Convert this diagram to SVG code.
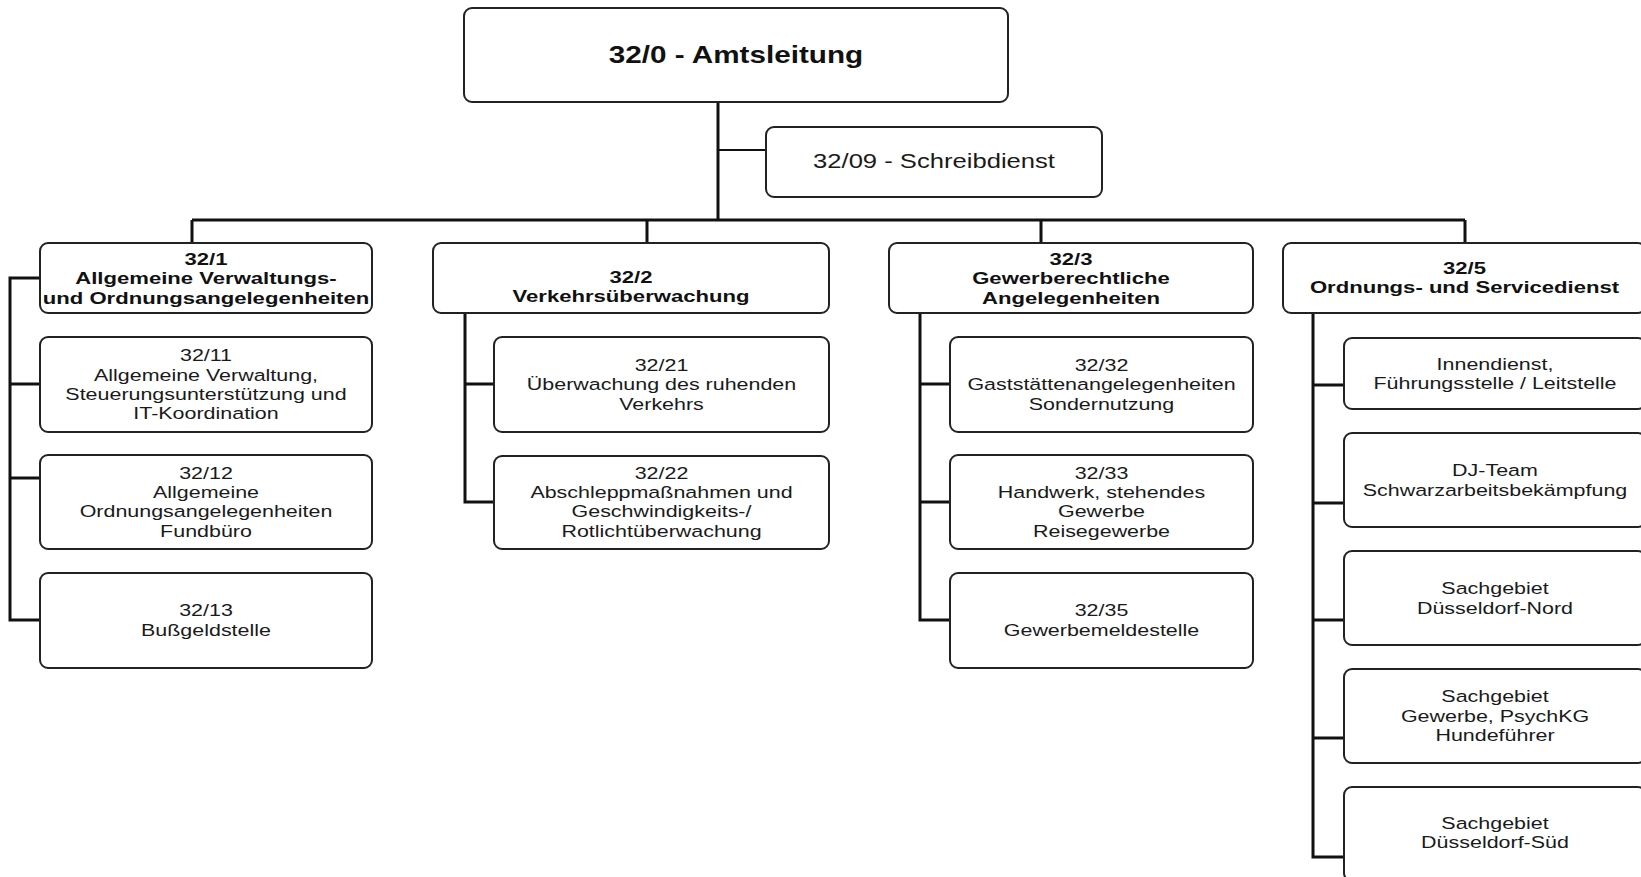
<svg xmlns="http://www.w3.org/2000/svg" width="1641" height="877" viewBox="0 0 1641 877">
<style>
  .box{fill:#fff;stroke:#222;stroke-width:2}
  .t{font-family:"Liberation Sans",Arial,sans-serif;font-size:16.5px;fill:#1a1a1a;text-anchor:middle}
  .b{font-family:"Liberation Sans",Arial,sans-serif;font-size:17px;font-weight:bold;fill:#111;text-anchor:middle}
  .c{fill:none;stroke:#111;stroke-width:3;stroke-linejoin:miter}
  .c2{fill:none;stroke:#111;stroke-width:2}
</style>
<rect x="0" y="0" width="1641" height="877" fill="#fff"/>
<g id="connectors">
  <path class="c" d="M718 102V220"/>
  <path class="c2" d="M718 150H766"/>
  <path class="c" d="M192 220H1465"/>
  <path class="c" d="M192 220V243M647 220V243M1041 220V243M1465 220V243"/>
  <path class="c" d="M40 278H10V620H40M10 384H40M10 478H40"/>
  <path class="c" d="M465 313V502H494M465 384H494"/>
  <path class="c" d="M920 313V620H950M920 384H950M920 502H950"/>
  <path class="c" d="M1313 313V857H1344M1313 385H1344M1313 503H1344M1313 620H1344M1313 738H1344"/>
</g>
<g id="n320">
  <rect class="box" x="464" y="8" width="544" height="94" rx="8"/>
  <g transform="translate(736 0) scale(1.29 1)"><text class="b" style="font-size:23px" x="0" y="63">32/0 - Amtsleitung</text></g>
</g>
<g id="n3209">
  <rect class="box" x="766" y="127" width="336" height="70" rx="8"/>
  <g transform="translate(934 0) scale(1.28 1)"><text class="t" style="font-size:20px" x="0" y="168">32/09 - Schreibdienst</text></g>
</g>
<g id="n321">
  <rect class="box" x="40" y="243" width="332" height="70" rx="8"/>
  <g transform="translate(206 0) scale(1.3 1)">
    <text class="b" x="0" y="265">32/1</text>
    <text class="b" x="0" y="284.5">Allgemeine Verwaltungs-</text>
    <text class="b" x="0" y="304">und Ordnungsangelegenheiten</text>
  </g>
</g>
<g id="n3211">
  <rect class="box" x="40" y="337" width="332" height="95" rx="8"/>
  <g transform="translate(206 0) scale(1.3 1)">
    <text class="t" x="0" y="361.5">32/11</text>
    <text class="t" x="0" y="381">Allgemeine Verwaltung,</text>
    <text class="t" x="0" y="400">Steuerungsunterstützung und</text>
    <text class="t" x="0" y="419.5">IT-Koordination</text>
  </g>
</g>
<g id="n3212">
  <rect class="box" x="40" y="455" width="332" height="94" rx="8"/>
  <g transform="translate(206 0) scale(1.3 1)">
    <text class="t" x="0" y="479">32/12</text>
    <text class="t" x="0" y="498.5">Allgemeine</text>
    <text class="t" x="0" y="517.5">Ordnungsangelegenheiten</text>
    <text class="t" x="0" y="537">Fundbüro</text>
  </g>
</g>
<g id="n3213">
  <rect class="box" x="40" y="573" width="332" height="95" rx="8"/>
  <g transform="translate(206 0) scale(1.3 1)">
    <text class="t" x="0" y="616.5">32/13</text>
    <text class="t" x="0" y="636">Bußgeldstelle</text>
  </g>
</g>
<g id="n322">
  <rect class="box" x="433" y="243" width="396" height="70" rx="8"/>
  <g transform="translate(631 0) scale(1.3 1)">
    <text class="b" x="0" y="283">32/2</text>
    <text class="b" x="0" y="302.5">Verkehrsüberwachung</text>
  </g>
</g>
<g id="n3221">
  <rect class="box" x="494" y="337" width="335" height="95" rx="8"/>
  <g transform="translate(661.5 0) scale(1.3 1)">
    <text class="t" x="0" y="371">32/21</text>
    <text class="t" x="0" y="390.5">Überwachung des ruhenden</text>
    <text class="t" x="0" y="410">Verkehrs</text>
  </g>
</g>
<g id="n3222">
  <rect class="box" x="494" y="456" width="335" height="93" rx="8"/>
  <g transform="translate(661.5 0) scale(1.3 1)">
    <text class="t" x="0" y="479">32/22</text>
    <text class="t" x="0" y="498.5">Abschleppmaßnahmen und</text>
    <text class="t" x="0" y="517.5">Geschwindigkeits-/</text>
    <text class="t" x="0" y="537">Rotlichtüberwachung</text>
  </g>
</g>
<g id="n323">
  <rect class="box" x="889" y="243" width="364" height="70" rx="8"/>
  <g transform="translate(1071 0) scale(1.3 1)">
    <text class="b" x="0" y="265">32/3</text>
    <text class="b" x="0" y="284.5">Gewerberechtliche</text>
    <text class="b" x="0" y="304">Angelegenheiten</text>
  </g>
</g>
<g id="n3232">
  <rect class="box" x="950" y="337" width="303" height="95" rx="8"/>
  <g transform="translate(1101.5 0) scale(1.3 1)">
    <text class="t" x="0" y="371">32/32</text>
    <text class="t" x="0" y="390.5">Gaststättenangelegenheiten</text>
    <text class="t" x="0" y="410">Sondernutzung</text>
  </g>
</g>
<g id="n3233">
  <rect class="box" x="950" y="455" width="303" height="94" rx="8"/>
  <g transform="translate(1101.5 0) scale(1.3 1)">
    <text class="t" x="0" y="479">32/33</text>
    <text class="t" x="0" y="498.5">Handwerk, stehendes</text>
    <text class="t" x="0" y="517.5">Gewerbe</text>
    <text class="t" x="0" y="537">Reisegewerbe</text>
  </g>
</g>
<g id="n3235">
  <rect class="box" x="950" y="573" width="303" height="95" rx="8"/>
  <g transform="translate(1101.5 0) scale(1.3 1)">
    <text class="t" x="0" y="616.5">32/35</text>
    <text class="t" x="0" y="636">Gewerbemeldestelle</text>
  </g>
</g>
<g id="n325">
  <rect class="box" x="1283" y="243" width="363" height="70" rx="8"/>
  <g transform="translate(1464.5 0) scale(1.3 1)">
    <text class="b" x="0" y="274">32/5</text>
    <text class="b" x="0" y="293">Ordnungs- und Servicedienst</text>
  </g>
</g>
<g id="n_innendienst">
  <rect class="box" x="1344" y="338" width="302" height="71" rx="8"/>
  <g transform="translate(1495 0) scale(1.3 1)">
    <text class="t" x="0" y="370">Innendienst,</text>
    <text class="t" x="0" y="389.5">Führungsstelle / Leitstelle</text>
  </g>
</g>
<g id="n_djteam">
  <rect class="box" x="1344" y="433" width="302" height="94" rx="8"/>
  <g transform="translate(1495 0) scale(1.3 1)">
    <text class="t" x="0" y="476.5">DJ-Team</text>
    <text class="t" x="0" y="496">Schwarzarbeitsbekämpfung</text>
  </g>
</g>
<g id="n_nord">
  <rect class="box" x="1344" y="551" width="302" height="94" rx="8"/>
  <g transform="translate(1495 0) scale(1.3 1)">
    <text class="t" x="0" y="594.5">Sachgebiet</text>
    <text class="t" x="0" y="614">Düsseldorf-Nord</text>
  </g>
</g>
<g id="n_gewerbe">
  <rect class="box" x="1344" y="669" width="302" height="94" rx="8"/>
  <g transform="translate(1495 0) scale(1.3 1)">
    <text class="t" x="0" y="702.5">Sachgebiet</text>
    <text class="t" x="0" y="722">Gewerbe, PsychKG</text>
    <text class="t" x="0" y="741.5">Hundeführer</text>
  </g>
</g>
<g id="n_sued">
  <rect class="box" x="1344" y="787" width="302" height="94" rx="8"/>
  <g transform="translate(1495 0) scale(1.3 1)">
    <text class="t" x="0" y="829">Sachgebiet</text>
    <text class="t" x="0" y="848.5">Düsseldorf-Süd</text>
  </g>
</g>
</svg>
